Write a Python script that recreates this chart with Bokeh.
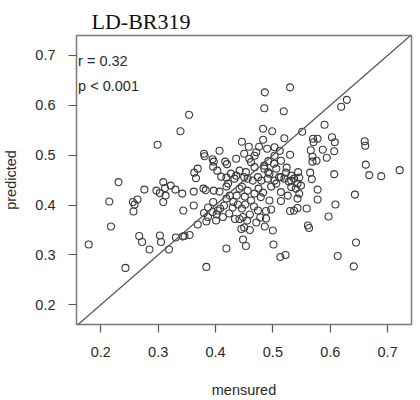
from bokeh.plotting import figure
from bokeh.models import Range1d, FixedTicker, Label, Slope
from bokeh.embed import file_html
from bokeh.resources import INLINE

title_text = "LD-BR319"
x_label = "mensured"
y_label = "predicted"
stat_r = "r = 0.32"
stat_p = "p < 0.001"
tick_values = [0.2, 0.3, 0.4, 0.5, 0.6, 0.7]

measured = [
    0.354, 0.339, 0.299, 0.231, 0.215, 0.218, 0.179, 0.243, 0.256, 0.259,
    0.264, 0.257, 0.276, 0.267, 0.272, 0.285, 0.303, 0.305, 0.319, 0.331,
    0.343, 0.346, 0.355, 0.384, 0.419, 0.309, 0.322, 0.312, 0.297, 0.303,
    0.313, 0.309, 0.330, 0.342, 0.344, 0.362, 0.362, 0.369, 0.363, 0.366,
    0.369, 0.379, 0.383, 0.397, 0.407, 0.380, 0.381, 0.407, 0.395, 0.397,
    0.396, 0.417, 0.420, 0.436, 0.446, 0.410, 0.419, 0.436, 0.403, 0.380,
    0.387, 0.384, 0.395, 0.402, 0.401, 0.408, 0.396, 0.422, 0.425, 0.419,
    0.431, 0.437, 0.442, 0.434, 0.442, 0.445, 0.419, 0.427, 0.433, 0.415,
    0.404, 0.413, 0.424, 0.430, 0.439, 0.387, 0.483, 0.499, 0.551, 0.590,
    0.520, 0.483, 0.570, 0.578, 0.571, 0.603, 0.608, 0.660, 0.661, 0.471,
    0.468, 0.490, 0.503, 0.512, 0.530, 0.566, 0.587, 0.607, 0.569, 0.576,
    0.569, 0.594, 0.662, 0.721, 0.668, 0.689, 0.607, 0.524, 0.544, 0.565,
    0.568, 0.530, 0.486, 0.485, 0.519, 0.619, 0.629, 0.450, 0.459, 0.462,
    0.503, 0.492, 0.485, 0.506, 0.514, 0.494, 0.468, 0.453, 0.450, 0.474,
    0.467, 0.452, 0.462, 0.468, 0.479, 0.494, 0.543, 0.546, 0.540, 0.532,
    0.526, 0.514, 0.456, 0.465, 0.480, 0.491, 0.503, 0.511, 0.520, 0.532,
    0.543, 0.549, 0.523, 0.532, 0.528, 0.537, 0.546, 0.506, 0.497, 0.485,
    0.492, 0.543, 0.537, 0.530, 0.559, 0.578, 0.578, 0.609, 0.643, 0.597,
    0.561, 0.563, 0.514, 0.497, 0.488, 0.478, 0.486, 0.500, 0.501, 0.513,
    0.522, 0.613, 0.645, 0.641, 0.453, 0.448, 0.450, 0.460, 0.455, 0.448,
    0.446, 0.456, 0.451, 0.475, 0.483, 0.474, 0.446, 0.460, 0.471, 0.488,
    0.502, 0.514, 0.476, 0.458, 0.442,
]
predicted = [
    0.581, 0.548, 0.521, 0.446, 0.407, 0.357, 0.321, 0.274, 0.406, 0.401,
    0.411, 0.387, 0.431, 0.338, 0.326, 0.311, 0.339, 0.326, 0.311, 0.335,
    0.337, 0.338, 0.340, 0.276, 0.313, 0.446, 0.439, 0.434, 0.429, 0.424,
    0.419, 0.406, 0.431, 0.423, 0.389, 0.427, 0.399, 0.473, 0.465, 0.454,
    0.361, 0.433, 0.430, 0.429, 0.427, 0.503, 0.498, 0.509, 0.492, 0.487,
    0.477, 0.487, 0.482, 0.493, 0.527, 0.457, 0.455, 0.459, 0.469, 0.384,
    0.376, 0.367, 0.386, 0.381, 0.369, 0.393, 0.406, 0.443, 0.419, 0.413,
    0.406, 0.419, 0.433, 0.372, 0.372, 0.352, 0.437, 0.463, 0.453, 0.399,
    0.389, 0.376, 0.383, 0.395, 0.401, 0.395, 0.553, 0.548, 0.547, 0.561,
    0.534, 0.531, 0.533, 0.533, 0.526, 0.536, 0.526, 0.528, 0.519, 0.506,
    0.499, 0.513, 0.516, 0.509, 0.501, 0.510, 0.511, 0.508, 0.497, 0.489,
    0.487, 0.495, 0.481, 0.470, 0.460, 0.458, 0.462, 0.475, 0.466, 0.465,
    0.452, 0.636, 0.626, 0.594, 0.588, 0.597, 0.611, 0.503, 0.493, 0.486,
    0.499, 0.488, 0.479, 0.473, 0.456, 0.463, 0.476, 0.466, 0.456, 0.456,
    0.397, 0.401, 0.409, 0.423, 0.416, 0.409, 0.413, 0.423, 0.433, 0.436,
    0.419, 0.426, 0.453, 0.449, 0.449, 0.453, 0.449, 0.456, 0.453, 0.449,
    0.443, 0.439, 0.465, 0.459, 0.447, 0.453, 0.455, 0.443, 0.437, 0.473,
    0.466, 0.394, 0.389, 0.388, 0.393, 0.431, 0.411, 0.401, 0.421, 0.377,
    0.359, 0.354, 0.408, 0.391, 0.388, 0.375, 0.357, 0.349, 0.321, 0.296,
    0.300, 0.298, 0.325, 0.277, 0.318, 0.331, 0.355, 0.350, 0.369, 0.376,
    0.437, 0.429, 0.417, 0.433, 0.425, 0.389, 0.393, 0.381, 0.365, 0.373,
    0.483, 0.489, 0.517, 0.517, 0.469,
]

FONT = "Liberation Sans"
TXT = "#2a2a2a"

p = figure(width=420, height=400, output_backend="svg", toolbar_location=None,
           x_range=Range1d(0.1577, 0.7416), y_range=Range1d(0.1605, 0.740),
           min_border_left=75, min_border_right=9, min_border_top=35, min_border_bottom=76,
           title=title_text)

p.title.text_font = "Liberation Serif"
p.title.text_font_size = "22px"
p.title.text_font_style = "normal"
p.title.text_color = "#111111"
p.title.offset = 15
p.title.standoff = 4

p.background_fill_color = "white"
p.border_fill_color = "white"
p.outline_line_color = "#7a7a7a"
p.outline_line_width = 1.5
p.xgrid.visible = False
p.ygrid.visible = False

for ax in (p.xaxis, p.yaxis):
    ax.ticker = FixedTicker(ticks=tick_values)
    ax.axis_line_color = None
    ax.major_tick_line_color = "#555555"
    ax.major_tick_line_width = 1.2
    ax.major_tick_in = 0
    ax.major_tick_out = 8
    ax.minor_tick_line_color = None
    ax.major_label_text_font = FONT
    ax.major_label_text_font_size = "14.5px"
    ax.major_label_text_color = TXT
    ax.axis_label_text_font = FONT
    ax.axis_label_text_font_size = "14.5px"
    ax.axis_label_text_font_style = "normal"
    ax.axis_label_text_color = TXT

p.xaxis.axis_label = x_label
p.yaxis.axis_label = y_label
p.xaxis.major_label_standoff = 14
p.yaxis.major_label_standoff = 13
p.xaxis.axis_label_standoff = 22
p.yaxis.axis_label_standoff = 13

p.add_layout(Slope(gradient=1, y_intercept=0, line_color="#555555", line_width=1.2))

p.scatter(measured, predicted, marker="circle", size=7, fill_color=None,
          line_color="#3a3a3a", line_width=1.1)

p.add_layout(Label(x=0.1605, y=0.688, text=stat_r, text_font=FONT, text_font_size="14.5px",
                   text_color=TXT, text_baseline="middle"))
p.add_layout(Label(x=0.1605, y=0.638, text=stat_p, text_font=FONT, text_font_size="14.5px",
                   text_color=TXT, text_baseline="middle"))

open("out.html", "w").write(file_html(p, INLINE))
